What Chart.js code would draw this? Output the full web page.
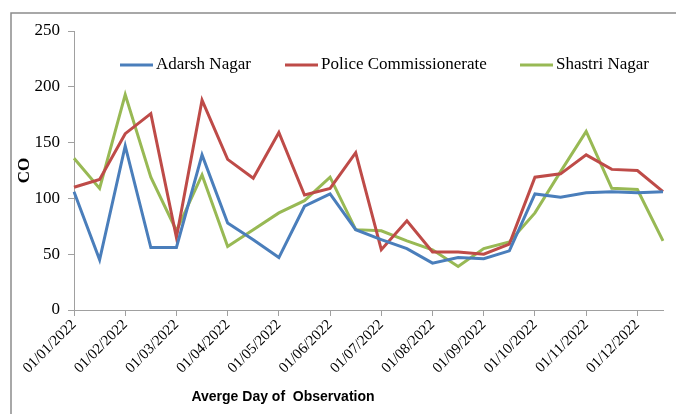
<!DOCTYPE html>
<html>
<head>
<meta charset="utf-8">
<script src="https://cdn.jsdelivr.net/npm/chart.js@4.4.0/dist/chart.umd.min.js"></script>
<style>
  html, body { margin: 0; padding: 0; background: #fff; }
  #wrap { width: 676px; height: 414px; }
</style>
</head>
<body>
<div id="wrap"><canvas id="coChart" width="676" height="414"></canvas></div>
<script>
// observation dates (1st and mid of each month)
var days = [
  "01/01/2022", "15/01/2022", "01/02/2022", "15/02/2022", "01/03/2022", "15/03/2022",
  "01/04/2022", "15/04/2022", "01/05/2022", "15/05/2022", "01/06/2022", "15/06/2022",
  "01/07/2022", "15/07/2022", "01/08/2022", "15/08/2022", "01/09/2022", "15/09/2022",
  "01/10/2022", "15/10/2022", "01/11/2022", "15/11/2022", "01/12/2022", "15/12/2022"
];
var adarshNagar = [106, 45, 147, 56, 56, 139, 78, 63, 47, 93, 104, 72, 63, 55, 42, 47, 46, 53, 104, 101, 105, 106, 105, 106];
var policeComm = [110, 117, 158, 176, 65, 188, 135, 118, 159, 103, 109, 141, 54, 80, 52, 52, 50, 59, 119, 122, 139, 126, 125, 106];
var shastriNagar = [136, 109, 193, 119, 71, 121, 57, 72, 87, 98, 119, 72, 71, 62, 54, 39, 55, 61, 87, 124, 160, 109, 108, 62];
var yTicks = [0, 50, 100, 150, 200, 250];

var serif = "'Liberation Serif', 'Times New Roman', serif";
var legendX = [120, 285, 520]; // where each legend line starts

// grey frame, legend inside the plot, x axis title
var extrasPlugin = {
  id: "extras",
  afterDraw: function(chart) {
    var ctx = chart.ctx;
    ctx.save();
    ctx.strokeStyle = "#8c8c8c";
    ctx.lineWidth = 1.5;
    ctx.beginPath();
    ctx.moveTo(11, 414);
    ctx.lineTo(11, 13);
    ctx.lineTo(676, 13);
    ctx.stroke();

    ctx.font = "17px " + serif;
    ctx.textBaseline = "middle";
    ctx.textAlign = "left";
    chart.data.datasets.forEach(function(ds, i) {
      var x = legendX[i], y = 65;
      ctx.strokeStyle = ds.borderColor;
      ctx.lineWidth = 3;
      ctx.beginPath();
      ctx.moveTo(x, y);
      ctx.lineTo(x + 33, y);
      ctx.stroke();
      ctx.fillStyle = "#000";
      ctx.fillText(ds.label, x + 36, y);
    });

    ctx.font = "bold 14px 'Liberation Sans', Arial, sans-serif";
    ctx.textAlign = "center";
    ctx.fillText("Averge Day of  Observation", 283, 397);
    ctx.restore();
  }
};

new Chart("coChart", {
  type: "line",
  data: {
    labels: days,
    datasets: [
      {
        label: "Adarsh Nagar",
        data: adarshNagar,
        borderColor: "#4a7ebb",
        borderWidth: 3,
        pointRadius: 0,
        tension: 0
      },
      {
        label: "Police Commissionerate",
        data: policeComm,
        borderColor: "#be4b48",
        borderWidth: 3,
        pointRadius: 0,
        tension: 0
      },
      {
        label: "Shastri Nagar",
        data: shastriNagar,
        borderColor: "#98b954",
        borderWidth: 3,
        pointRadius: 0,
        tension: 0
      }
    ]
  },
  options: {
    responsive: false,
    animation: false,
    layout: { padding: { left: 11, top: 31, right: 13, bottom: 0 } },
    plugins: {
      legend: { display: false },
      tooltip: { enabled: false }
    },
    scales: {
      x: {
        offset: false,
        afterFit: function(scale) { scale.height = 104; },
        grid: {
          drawOnChartArea: false,
          tickLength: 6,
          tickColor: function(ctx) { return ctx.index % 2 ? "rgba(0,0,0,0)" : "#a0a0a0"; }
        },
        border: { color: "#a0a0a0", width: 1 },
        ticks: {
          autoSkip: false,
          minRotation: 45,
          maxRotation: 45,
          padding: 0,
          color: "#000",
          font: { family: serif, size: 15 },
          callback: function(val, i) { return i % 2 ? "" : days[i]; }
        }
      },
      y: {
        min: 0,
        max: 250,
        afterFit: function(scale) { scale.width = 63; },
        afterBuildTicks: function(scale) {
          scale.ticks = yTicks.map(function(v) { return { value: v }; });
        },
        grid: { drawOnChartArea: false, tickLength: 6, tickColor: "#a0a0a0" },
        border: { color: "#a0a0a0", width: 1 },
        ticks: {
          padding: 8,
          color: "#000",
          font: { family: serif, size: 17 }
        },
        title: {
          display: true,
          text: "CO",
          color: "#000",
          padding: { top: 3, bottom: 0 },
          font: { family: serif, size: 17, weight: "bold" }
        }
      }
    }
  },
  plugins: [extrasPlugin]
});
</script>
</body>
</html>
